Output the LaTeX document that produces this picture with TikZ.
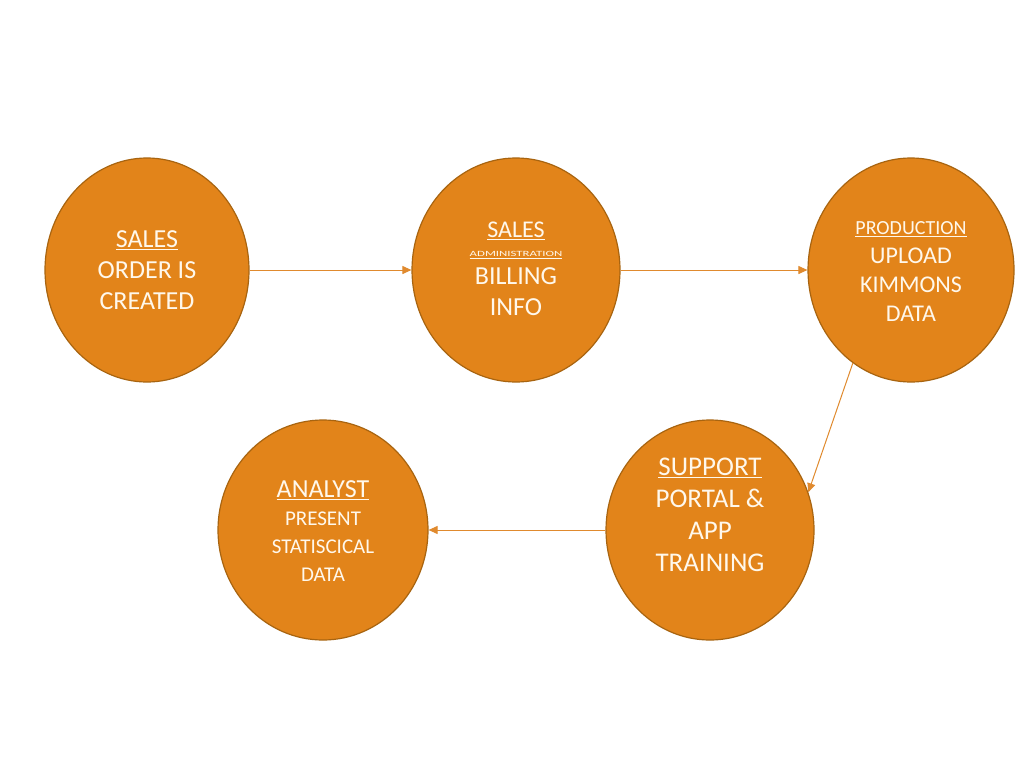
\documentclass[tikz,border=0pt]{standalone}
\usepackage{fontspec}
\setmainfont{Carlito}
\usetikzlibrary{arrows.meta,shapes.geometric}
\definecolor{orangefill}{HTML}{E2841A}
\definecolor{orangedraw}{HTML}{A86410}
\definecolor{arrowc}{HTML}{E08A2E}
\definecolor{textc}{HTML}{FFF8EC}
\newcommand{\ul}[1]{\underline{#1}}
\newcommand{\fs}[2]{\fontsize{#1}{#2}\selectfont}
\tikzset{
  stage/.style={ellipse, fill=orangefill, draw=orangedraw, line width=1.2pt, inner sep=0pt},
  stagetext/.style={text=textc, align=center, inner sep=0pt},
  flow/.style={draw=arrowc, line width=1pt, -{Triangle[length=9pt,width=8pt]}}
}
\begin{document}
\begin{tikzpicture}[x=1pt,y=-1pt]
\useasboundingbox (0,0) rectangle (1024,768);
\fill[white] (0,0) rectangle (1024,768);
\node[stage, minimum width=204pt, minimum height=224pt] (sales) at (147,270) {};
\node[stage, minimum width=208pt, minimum height=224pt] (billing) at (516,270) {};
\node[stage, minimum width=206pt, minimum height=224pt] (prod) at (911,270) {};
\node[stage, minimum width=208pt, minimum height=220pt] (support) at (710,530) {};
\node[stage, minimum width=210pt, minimum height=220pt] (analyst) at (323,530) {};
\node[stagetext, font=\fs{26}{31}] (salest) at (147,270)
  {\ul{SALES}\\ORDER IS\\CREATED};
\node[stagetext, font=\fs{26}{31}] (billingt) at (516,269)
  {{\fs{24}{24}\ul{SALES}}\\[-12pt]{\fs{8}{9}\scalebox{1.6}[1]{\ul{ADMINISTRATION}}}\\[-3pt]BILLING\\INFO};
\node[stagetext, font=\fs{24}{29}] (prodt) at (911,272)
  {{\fs{20}{24}\ul{PRODUCTION}}\\UPLOAD\\KIMMONS\\DATA};
\node[stagetext, font=\fs{27}{32}] (supportt) at (710,515)
  {\ul{SUPPORT}\\PORTAL \&\\APP\\TRAINING};
\node[stagetext, font=\fs{21}{28}] (analystt) at (323,531)
  {{\fs{26}{28}\ul{ANALYST}}\\PRESENT\\STATISCICAL\\DATA};
\draw[flow] (sales.east) -- (billing.west);
\draw[flow] (billing.east) -- (prod.west);
\draw[flow] (prod.-122) -- (support.21);
\draw[flow] (support.west) -- (analyst.east);
\end{tikzpicture}
\end{document}
